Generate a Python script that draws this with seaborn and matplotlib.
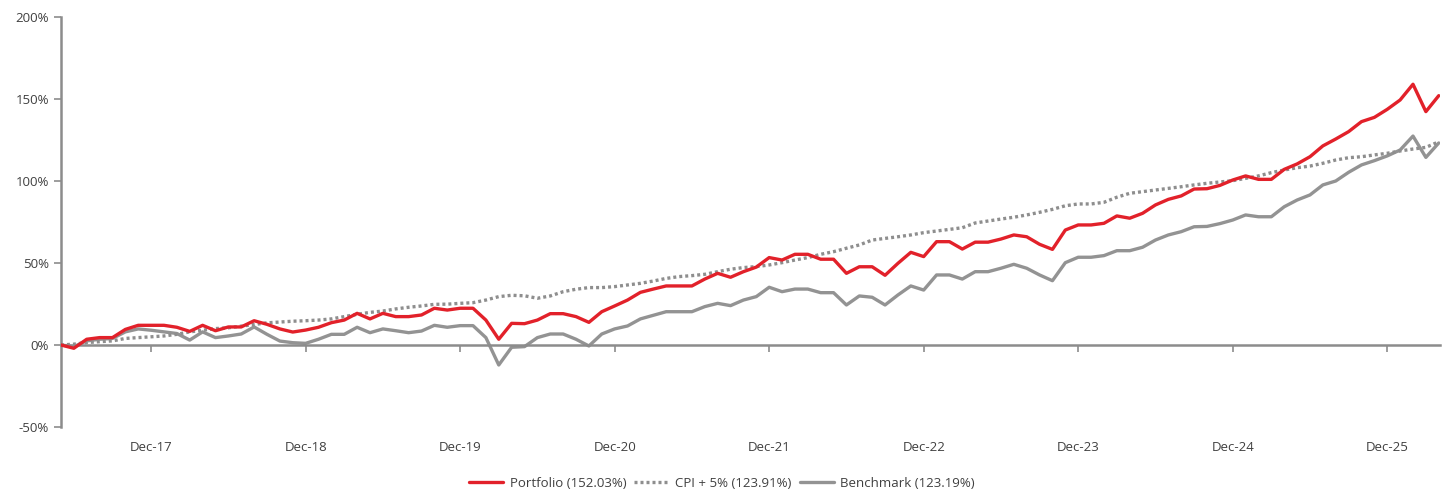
import pandas as pd
import matplotlib.pyplot as plt
import seaborn as sns

# monthly cumulative returns (%), May-17 .. Apr-26
months = pd.date_range('2017-05-31', periods=108, freq='ME')

portfolio = [0, -2, 3.5, 4.5, 4.5, 9.5, 12, 12, 12, 10.8, 8.3, 12, 8.7, 11, 11, 14.8, 12.6, 9.8, 7.9,
             9.1, 10.8, 13.6, 15.2, 19.3, 15.9, 19.3, 17.3, 17.3, 18.3, 22.4, 21.3, 22.4, 22.4, 15.2, 3.5, 13.2, 13,
             15.2, 19.1, 19.1, 17.3, 13.8, 20.3, 23.8, 27.4, 32.1, 34.1, 36, 36, 36, 40.2, 43.7, 41.3, 44.7, 47.5,
             53.3, 51.8, 55.3, 55.3, 52.3, 52.3, 43.7, 47.7, 47.7, 42.5, 49.8, 56.5, 53.9, 63, 63, 58.5, 62.7, 62.7,
             64.6, 67.1, 66, 61.4, 58.3, 70.1, 73.2, 73.2, 74.2, 78.7, 77.3, 80.3, 85.4, 88.8, 90.9, 95.1, 95.3, 97.3,
             100.6, 103.1, 101, 101, 107.1, 110.4, 114.8, 121.4, 125.6, 130.1, 136.2, 138.8, 143.7, 149.4, 159, 142.3, 152.03]

cpi = [0, 0.5, 1.5, 2, 2.5, 4, 4.5, 5, 5.5, 6.5, 8, 9, 10, 10.5, 11.5, 12.5, 13.5, 14, 14.5,
       14.8, 15.2, 15.9, 17.3, 18.7, 19.9, 20.7, 22, 23, 23.8, 24.8, 24.9, 25.4, 25.8, 27.4, 29.5, 30.3, 30,
       28.5, 29.9, 32.5, 34, 35, 35, 35.6, 36.6, 37.6, 39, 40.6, 41.7, 42.3, 43.1, 44.7, 46.2, 47.2, 47.8,
       48.8, 50.2, 51.8, 53.3, 55.3, 56.9, 59, 61, 64, 65, 66, 67.1, 68.5, 69.5, 70.5, 71.5, 74.4, 75.6,
       76.8, 77.9, 79.3, 80.9, 82.7, 84.9, 86, 86, 87, 90.1, 92.5, 93.5, 94.5, 95.5, 96.5, 97.6, 98.6, 99.4,
       100.2, 101.6, 103.1, 105.1, 106.7, 108.1, 109.1, 110.8, 112.8, 114.2, 114.8, 115.9, 116.9, 118.3, 119.5, 120.5, 123.91]

benchmark = [0, -1, 2.5, 3.5, 4, 8, 9.8, 9, 8, 7, 3, 8, 4.5, 5.5, 6.7, 11, 6.5, 2.4, 1.4,
             1.0, 3.5, 6.5, 6.5, 10.8, 7.5, 9.8, 8.7, 7.5, 8.5, 12, 10.8, 11.8, 11.8, 4.5, -12.2, -1.4, -1,
             4.5, 6.7, 6.7, 3.5, -0.6, 6.7, 9.8, 11.6, 15.9, 18.1, 20.3, 20.3, 20.3, 23.4, 25.4, 24, 27.4, 29.5,
             35.2, 32.5, 34.1, 34.1, 31.9, 31.9, 24.4, 29.9, 29.1, 24.4, 30.5, 36, 33.5, 42.7, 42.7, 40.2, 44.7, 44.7,
             46.8, 49.2, 46.8, 42.7, 39.2, 50.2, 53.5, 53.5, 54.5, 57.5, 57.5, 59.6, 64, 67.1, 69.1, 72.1, 72.3, 74,
             76.2, 79.3, 78.2, 78.2, 84.3, 88.4, 91.5, 97.6, 100, 105.3, 109.8, 112.4, 115.3, 118.9, 127.4, 114.4, 123.19]

labels = ['Portfolio (152.03%)', 'CPI + 5% (123.91%)', 'Benchmark (123.19%)']

sns.set_style('white')
plt.rcParams['font.family'] = ['Open Sans', 'DejaVu Sans']

df = pd.DataFrame({'x': range(len(months)), 'portfolio': portfolio, 'cpi': cpi, 'benchmark': benchmark})

fig = plt.figure(figsize=(14.48, 4.9), dpi=100)
ax = fig.add_axes([0.0421, 0.1286, 0.9524, 0.8367])

sns.lineplot(data=df, x='x', y='portfolio', ax=ax, color='#E2212A', lw=2.4, label=labels[0], zorder=4)
sns.lineplot(data=df, x='x', y='cpi', ax=ax, color='#8E8E8E', lw=2.4, label=labels[1], zorder=3)
sns.lineplot(data=df, x='x', y='benchmark', ax=ax, color='#939393', lw=2.4, label=labels[2], zorder=2)
ax.lines[1].set_dashes([0.9, 0.9])
ax.lines[1].set_dash_capstyle('butt')

ax.set_xlim(0, len(months) - 0.9)
ax.set_ylim(-50, 200)
ax.set_yticks([-50, 0, 50, 100, 150, 200])
ax.set_yticklabels([f'{v}%' for v in [-50, 0, 50, 100, 150, 200]])

# x axis line sits at 0%, labels along the bottom
dec = [i for i, m in enumerate(months) if m.month == 12]
ax.set_xticks(dec)
ax.set_xticklabels([])
ax.spines['bottom'].set_position(('data', 0))
ax.tick_params(axis='x', direction='out', length=5, width=1.2, color='#8C8C8C', bottom=True)
sec = ax.secondary_xaxis(0)
sec.set_xticks(dec)
sec.set_xticklabels([months[i].strftime('%b-%y') for i in dec])
sec.tick_params(length=0, pad=10, labelsize=9.5, labelcolor='#404040')
sec.spines['bottom'].set_visible(False)

for s in ['top', 'right']:
    ax.spines[s].set_visible(False)
for s in ['left', 'bottom']:
    ax.spines[s].set_color('#8C8C8C')
    ax.spines[s].set_linewidth(1.8)
ax.tick_params(axis='y', direction='out', length=5, width=1.2, color='#8C8C8C',
               labelsize=9.5, labelcolor='#404040', left=True)
ax.set_xlabel('')
ax.set_ylabel('')

ax.get_legend().remove()
h, l = ax.get_legend_handles_labels()
fig.legend(h, l, loc='center', bbox_to_anchor=(0.4986, 0.014), ncol=3, frameon=False,
           fontsize=9.5, labelcolor='#404040', handlelength=2.6, columnspacing=0.6, handletextpad=0.5)

fig.savefig('out.png', dpi=100)
